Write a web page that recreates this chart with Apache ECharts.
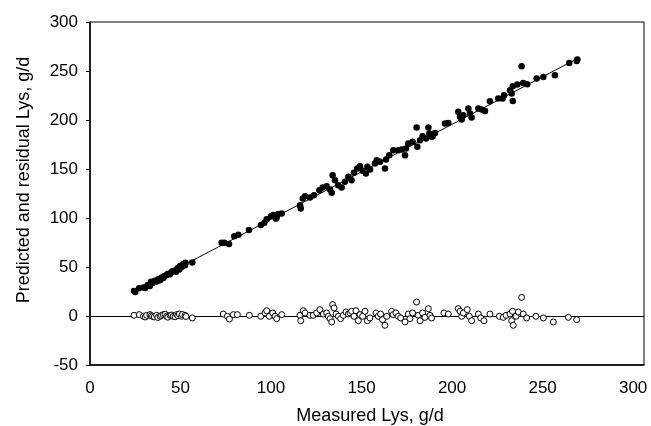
<!DOCTYPE html>
<html>
<head>
<meta charset="utf-8">
<script src="https://cdn.jsdelivr.net/npm/echarts@6/dist/echarts.min.js"></script>
<style>html,body{margin:0;padding:0;background:#fff}#c{width:651px;height:426px}</style>
</head>
<body>
<div id="c"></div>
<script>
// Predicted Lys (filled dots): [measured, predicted]
const predicted = [
  [24.3,25.5],[25.0,24.5],[27.1,28.2],[29.5,29.2],[30.5,28.5],[31.9,31.6],[33.0,30.5],[33.7,35],[34.5,33.8],
  [35.9,36],[36.8,35.2],[37.7,37.4],[38.7,36.5],[39.6,39.4],[40.5,38.8],[41.1,40.8],[42.3,41.5],[42.9,42.8],
  [44.2,42.5],[44.7,44.1],[45.5,45.6],[46.6,46.2],[47.5,45.2],[48.4,48.6],[49.3,47.5],[49.7,51],[50.6,50.0],
  [51.5,53],[52.5,51.8],[52.8,54.3],[56.5,54.7],
  [72.7,74.7],[74.2,74.7],[76.8,73.4],[79.7,81.5],[81.9,82.9],[87.8,87.7],[94.4,92.8],[96.3,95.1],[97.6,98.6],
  [100,101.9],[101.3,103],[102.6,99.6],[103.1,100.5],[104,104],[105.9,104.7],
  [116.4,109.8],[116,113.1],[117.5,120],[118.8,122.3],[121.5,121],[123.7,123.3],[126.7,128.4],[128.5,131.2],
  [130.7,132.5],[132.6,129.2],[133.5,125.7],[134,143.7],[135.3,138.6],[137.1,133.5],[139,131.2],[140.8,136.9],
  [142.7,142],[144.5,138.6],[145.8,146.1],[147.6,150.6],[149.1,152.9],[150.6,148.1],[152.4,145.5],[153.2,152.2],
  [154.7,149.5],[157.4,155.7],[158.4,159],[160.2,157.3],[162.9,150.6],[163.5,159.7],[165.3,164.1],[167.5,169.2],
  [170.3,169.2],[172.2,169.9],[174,164.1],[174.5,170.9],[175.8,176],[178.2,177.7],[180.4,192.4],[180.8,172.6],
  [182.3,179.4],[183.7,183.5],[185.6,181.1],[186.9,192.4],[187.4,186.2],[189.3,183.5],[190.6,186.8],[188.7,182.8],
  [196.1,196.4],[197.9,197],[203.4,208.3],[204.4,203.2],[205.3,200.5],[206.2,204.9],[209,211.7],[210.8,202.5],
  [209.9,206.6],[214.5,211.7],[216.3,210.7],[218.2,209.3],[220.9,219.2],[225.5,221.9],[227.9,221.9],[228.7,225.3],
  [232,230.4],[232.9,227],[233.5,219.5],[233.5,234.5],[236,236.2],[238.4,254.8],[239.3,237.8],[241.5,236.5],
  [246.7,242.3],[250.4,243.9],[256.8,245.7],[264.7,258.2],[268.8,260.3],[269.2,261.7]
];
// Residual Lys (open circles): [measured, residual]
const residual = [
  [24.3,0.7],[27.2,1.4],[29.5,-0.3],[30.5,-1.0],[31.3,0.7],[33.1,1.4],[33.8,0.2],[34.6,-0.3],[35.5,-1.0],
  [36.8,0.7],[37.5,-1.5],[38.7,-0.3],[39.5,0.5],[40.5,1.4],[41.5,1.8],[42.3,-0.3],[43,-1.2],[44.2,0.7],
  [45,1.0],[46.0,-0.3],[47,-0.8],[47.9,1.4],[48.5,0.3],[49.3,2.0],[50.6,-0.3],[51,1.5],[52.5,0.7],[53,-0.5],
  [56.5,-2.0],
  [73.6,2.0],[75.9,-0.3],[77.0,-3.1],[79.2,1.4],[81.4,1.4],[88.0,0.7],[94.3,-0.3],[96.7,3.1],[97.6,5.4],
  [99.0,-0.3],[100.9,3.1],[102.2,-0.3],[103.1,-2.7],[105.9,1.4],
  [116.0,0.7],[116.4,-4.8],[117.8,5.4],[118.8,3.1],[121.5,0.7],[123.3,0.7],[125.2,3.1],[127.0,6.5],[128.9,2.0],
  [130.7,3.1],[131.6,-0.3],[132.6,-2.7],[133.5,-6.1],[134.0,11.6],[134.8,8.2],[135.9,2.0],[137.2,-0.3],
  [138.4,-2.7],[139.9,0.7],[141.4,4.1],[142.7,2.0],[143.6,3.1],[144.5,4.8],[145.8,-0.3],[146.9,5.4],[148.2,-4.8],
  [149.1,1.4],[150.6,-0.3],[151.9,4.8],[153.2,-4.8],[154.6,-2.0],[158.0,3.1],[159.2,-0.3],[160.5,2.0],
  [161.6,-3.7],[162.9,-9.5],[163.9,-0.3],[166.6,4.8],[167.5,1.4],[169.0,3.1],[170.3,-0.3],[171.6,-2.0],
  [174.0,-6.1],[175.8,2.0],[176.7,-2.7],[178.2,3.1],[180.4,14.3],[181.3,0.7],[182.3,-4.8],[183.7,3.1],
  [185.0,-1.4],[186.9,7.5],[187.8,0.7],[188.7,-2.0],
  [195.5,3.1],[197.9,2.0],[203.4,7.5],[204.4,4.8],[205.3,-0.3],[206.2,3.1],[208.4,6.5],[209.5,-0.3],[210.8,-4.8],
  [214.5,2.0],[215.8,-2.0],[217.6,-4.8],[220.9,2.0],
  [226.1,-0.3],[228.3,-1.4],[229.8,0.7],[232.0,2.0],[232.9,-4.8],[233.4,4.8],[233.8,-9.5],[235.3,-0.3],
  [236.6,4.1],[238.4,19.0],[239.3,2.0],[241.2,-2.0],[246.3,-0.3],[250.4,-2.0],[255.9,-6.1],[264.2,-1.4],
  [268.8,-3.7]
];
// Fitted line end points
const fitX = [24, 270];
const fitY = [25, 263.5];
// Axis ticks
const xTicks = [0, 50, 100, 150, 200, 250, 300];
const yTicks = [-50, 0, 50, 100, 150, 200, 250, 300];
const xTitle = 'Measured Lys, g/d';
const yTitle = 'Predicted and residual Lys, g/d';

const FONT = 'Liberation Sans, Arial, Helvetica, sans-serif';
const chart = echarts.init(document.getElementById('c'), null, {renderer: 'canvas'});
chart.setOption({
  animation: false,
  backgroundColor: '#fff',
  grid: {left: 90, right: 7, top: 22, bottom: 61, show: true, borderColor: '#000', borderWidth: 1, backgroundColor: 'transparent'},
  xAxis: {
    type: 'value', min: xTicks[0], max: 306, interval: 50,
    axisLine: {show: true, onZero: false, lineStyle: {color: '#000', width: 1.5}},
    axisTick: {show: false},
    splitLine: {show: false},
    axisLabel: {color: '#000', fontFamily: FONT, fontSize: 17, margin: 15,
      formatter: v => (xTicks.indexOf(v) >= 0 ? String(v) : '')}
  },
  yAxis: {
    type: 'value', min: yTicks[0], max: yTicks[yTicks.length - 1], interval: 50,
    axisLine: {show: true, onZero: false, lineStyle: {color: '#000', width: 1.5}},
    axisTick: {show: true, inside: false, length: 4, lineStyle: {color: '#000', width: 1}},
    splitLine: {show: false},
    axisLabel: {color: '#000', fontFamily: FONT, fontSize: 17, margin: 12}
  },
  graphic: [
    {type: 'text', x: 370, y: 416, style: {text: xTitle, font: '18px ' + FONT, fill: '#000', align: 'center', verticalAlign: 'middle'}},
    {type: 'text', x: 24, y: 180, rotation: Math.PI / 2,
     style: {text: yTitle, font: '18px ' + FONT, fill: '#000', align: 'center', verticalAlign: 'middle'}}
  ],
  series: [
    {
      type: 'line', data: fitX.map((x, i) => [x, fitY[i]]), symbol: 'none',
      lineStyle: {color: '#000', width: 1}, z: 2, silent: true
    },
    {
      type: 'scatter', data: residual, symbol: 'circle', symbolSize: 6,
      itemStyle: {color: '#fff', borderColor: '#000', borderWidth: 1, opacity: 1}, z: 4,
      markLine: {silent: true, symbol: ['none', 'none'], label: {show: false},
        lineStyle: {color: '#000', width: 1, type: 'solid'}, data: [{yAxis: 0}], z: 3}
    },
    {
      type: 'scatter', data: predicted, symbol: 'circle', symbolSize: 6.5,
      itemStyle: {color: '#000', opacity: 1}, z: 5
    }
  ]
});
</script>
</body>
</html>
